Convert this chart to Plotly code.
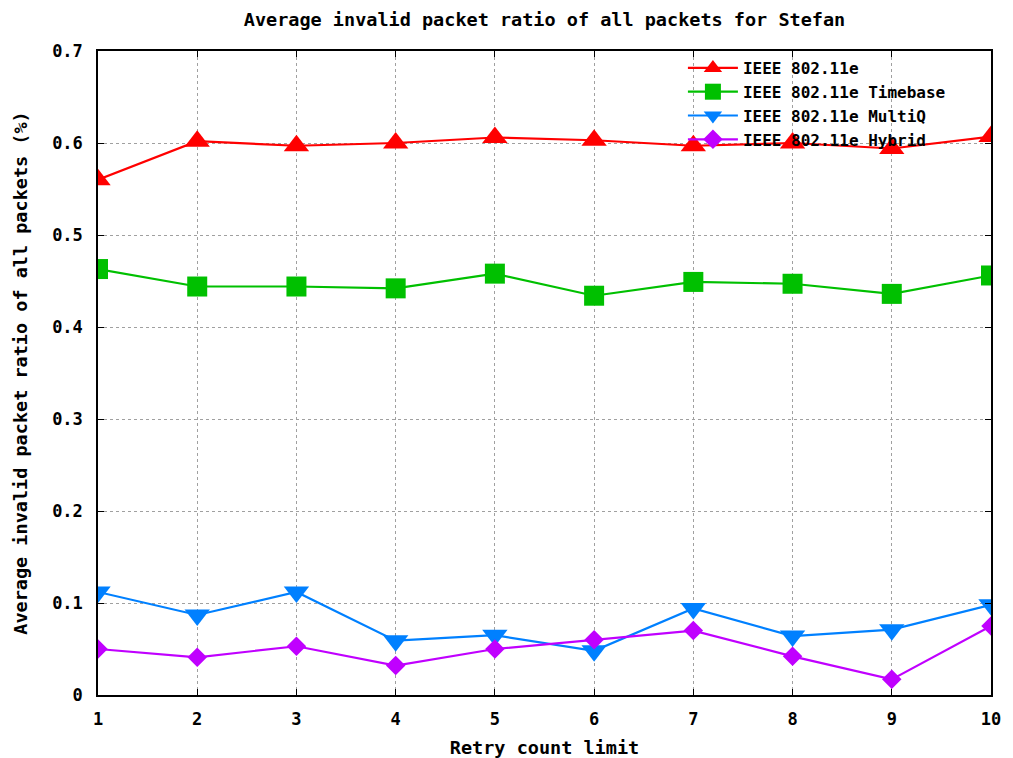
import plotly.graph_objects as go

retry = [1, 2, 3, 4, 5, 6, 7, 8, 9, 10]
ieee = [0.560, 0.602, 0.597, 0.600, 0.606, 0.603, 0.597, 0.600, 0.594, 0.607]
timebase = [0.463, 0.444, 0.444, 0.442, 0.458, 0.434, 0.449, 0.447, 0.436, 0.456]
multiq = [0.112, 0.087, 0.112, 0.059, 0.065, 0.048, 0.094, 0.064, 0.071, 0.098]
hybrid = [0.050, 0.041, 0.053, 0.032, 0.050, 0.060, 0.070, 0.042, 0.017, 0.075]

names = ["IEEE 802.11e", "IEEE 802.11e Timebase", "IEEE 802.11e MultiQ", "IEEE 802.11e Hybrid"]
colors = ["#FF0000", "#00C000", "#0080FF", "#C000FF"]
symbols = ["triangle-up", "square", "triangle-down", "diamond"]
sizes = [22, 20, 22, 15]

FONT = "DejaVu Sans Mono"

fig = go.Figure()
for name, ys, c, s, sz in zip(names, [ieee, timebase, multiq, hybrid], colors, symbols, sizes):
    fig.add_trace(go.Scatter(
        x=retry, y=ys, name=name, mode="lines+markers",
        line=dict(color=c, width=2.2),
        marker=dict(symbol=s, size=sz, color=c, line=dict(width=0)),
    ))

fig.update_layout(
    width=1013, height=758,
    paper_bgcolor="white", plot_bgcolor="white",
    margin=dict(l=98, r=22, t=51, b=63, autoexpand=False),
    font=dict(family=FONT, size=17, color="black", weight="bold"),
    title=dict(text="Average invalid packet ratio of all packets for Stefan",
               xref="paper", x=0.5, xanchor="center", y=0.974, yanchor="middle",
               font=dict(family=FONT, size=18.5, weight="bold")),
    showlegend=True,
    legend=dict(x=0.655, y=1.0, xanchor="left", yanchor="top",
                bgcolor="rgba(0,0,0,0)", borderwidth=0,
                font=dict(family=FONT, size=16, weight="bold"),
                tracegroupgap=0, itemwidth=50),
)

fig.update_xaxes(
    range=[1, 10], tickmode="array", tickvals=retry, ticktext=[str(v) for v in retry],
    showline=True, linecolor="black", linewidth=1.5, mirror="ticks",
    ticks="inside", ticklen=6, tickcolor="black", ticklabelstandoff=8,
    tickfont=dict(family=FONT, size=17, weight="bold"),
    showgrid=True, gridcolor="#A0A0A0", griddash="dot", gridwidth=1,
    zeroline=False, automargin=False,
    title=dict(text="Retry count limit", font=dict(family=FONT, size=18.5, weight="bold"), standoff=14),
)
fig.update_yaxes(
    range=[0, 0.7], tickmode="array", tickvals=[0, 0.1, 0.2, 0.3, 0.4, 0.5, 0.6, 0.7],
    ticktext=["0", "0.1", "0.2", "0.3", "0.4", "0.5", "0.6", "0.7"],
    showline=True, linecolor="black", linewidth=1.5, mirror="ticks",
    ticks="inside", ticklen=6, tickcolor="black", ticklabelstandoff=10,
    tickfont=dict(family=FONT, size=17, weight="bold"),
    showgrid=True, gridcolor="#A0A0A0", griddash="dot", gridwidth=1,
    zeroline=False, automargin=False,
    title=dict(text="Average invalid packet ratio of all packets (%)",
               font=dict(family=FONT, size=18.5, weight="bold"), standoff=20),
)

fig.write_html("out.html")
